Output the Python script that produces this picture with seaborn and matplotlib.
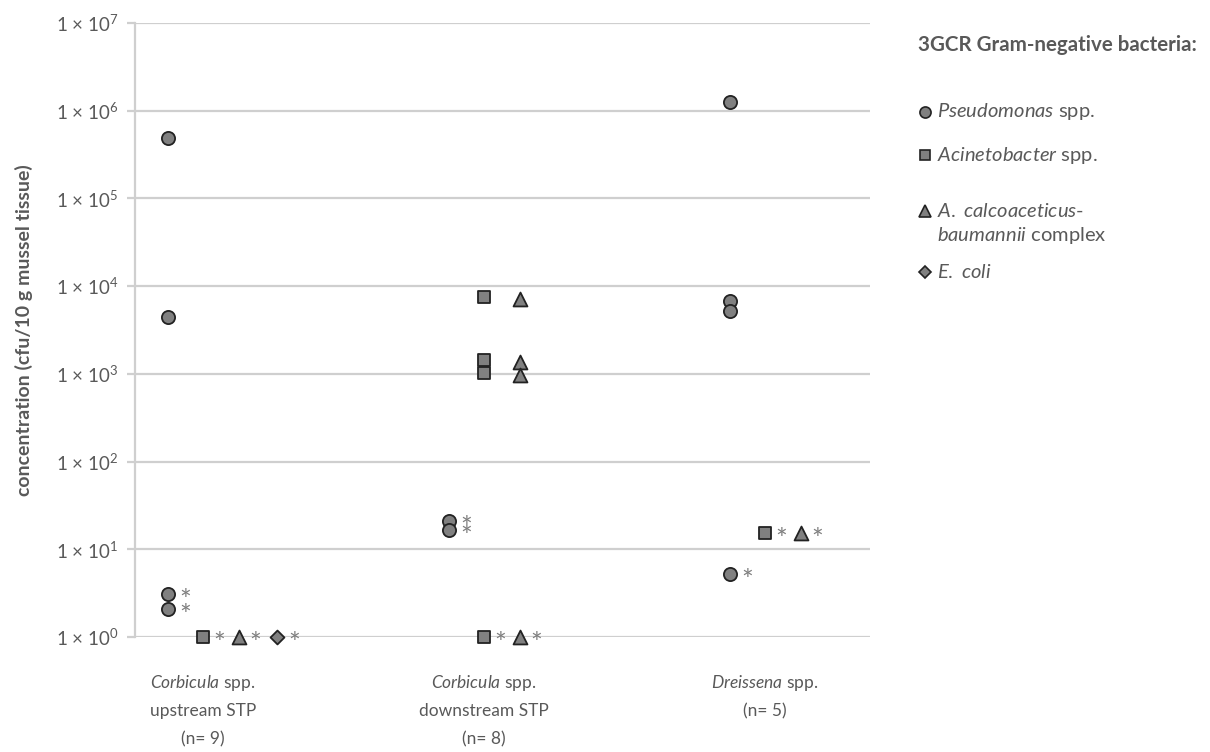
import numpy as np
import pandas as pd
import matplotlib
matplotlib.use("Agg")
import matplotlib.pyplot as plt
from matplotlib.lines import Line2D
from matplotlib.ticker import FixedLocator, FixedFormatter, NullLocator
import seaborn as sns

# ---- data -----------------------------------------------------------------
groups = ["upstream", "downstream", "dreissena"]
group_label_lines = [
    [r"$\mathit{Corbicula}$ spp.", "upstream STP", "(n= 9)"],
    [r"$\mathit{Corbicula}$ spp.", "downstream STP", "(n= 8)"],
    [r"$\mathit{Dreissena}$ spp.", "(n= 5)"],
]

taxa = ["Pseudomonas", "Acinetobacter", "ACB", "Ecoli"]
taxa_label_lines = [
    [r"$\mathit{Pseudomonas}$ spp."],
    [r"$\mathit{Acinetobacter}$ spp."],
    [r"$\mathit{A.\ calcoaceticus}$-", r"$\mathit{baumannii}$ complex"],
    [r"$\mathit{E.\ coli}$"],
]

# concentrations (cfu/10 g); flag = value at detection limit (marked with *)
pseudo_group = ["upstream"] * 4 + ["downstream"] * 2 + ["dreissena"] * 4
pseudo_value = [4.9e5, 4.4e3, 3.1, 2.1, 21, 16.6, 1.26e6, 6.8e3, 5.2e3, 5.2]
pseudo_flag = [False, False, True, True, True, True, False, False, False, True]

acin_group = ["upstream", "downstream", "downstream", "downstream", "downstream", "dreissena"]
acin_value = [1, 7.5e3, 1.45e3, 1.03e3, 1, 15.3]
acin_flag = [True, False, False, False, True, True]

acb_group = ["upstream", "downstream", "downstream", "downstream", "downstream", "dreissena"]
acb_value = [1, 7.1e3, 1.36e3, 0.97e3, 1, 15.3]
acb_flag = [True, False, False, False, True, True]

ecoli_group = ["upstream"]
ecoli_value = [1]
ecoli_flag = [True]

ytick_values = [1e0, 1e1, 1e2, 1e3, 1e4, 1e5, 1e6, 1e7]

# ---- styling ---------------------------------------------------------------
W, H = 1210, 752
TEXT = "#595959"
GRID = "#cfcfcf"
FILL = "#808080"
EDGE = "#222222"
x_offset = {"Pseudomonas": -0.123, "Acinetobacter": 0.0, "ACB": 0.127, "Ecoli": 0.265}
markers = {"Pseudomonas": "o", "Acinetobacter": "s", "ACB": "^", "Ecoli": "D"}
msize = {"Pseudomonas": 90, "Acinetobacter": 85, "ACB": 100, "Ecoli": 50}

sns.set_theme(style="white")
plt.rcParams["font.family"] = ["Lato", "DejaVu Sans"]
plt.rcParams["mathtext.fontset"] = "custom"
plt.rcParams["mathtext.rm"] = "Lato"
plt.rcParams["mathtext.it"] = "Lato:italic"
plt.rcParams["mathtext.bf"] = "Lato:bold"

frames = []
for taxon, g, v, f in [
    ("Pseudomonas", pseudo_group, pseudo_value, pseudo_flag),
    ("Acinetobacter", acin_group, acin_value, acin_flag),
    ("ACB", acb_group, acb_value, acb_flag),
    ("Ecoli", ecoli_group, ecoli_value, ecoli_flag),
]:
    frames.append(pd.DataFrame({"taxon": taxon, "group": g, "value": v, "flag": f}))
df = pd.concat(frames, ignore_index=True)
df["x"] = df["group"].map({g: i + 1 for i, g in enumerate(groups)}) + df["taxon"].map(x_offset)

fig = plt.figure(figsize=(W / 100, H / 100), dpi=100)
ax = fig.add_axes([135 / W, 1 - 637 / H, (870 - 135) / W, (637 - 23) / H])

ax.set_yscale("log")
ax.set_ylim(1, 1e7)
ax.set_xlim(0.758, 3.374)

for taxon in taxa:
    sub = df[df["taxon"] == taxon]
    sns.scatterplot(data=sub, x="x", y="value", marker=markers[taxon], s=msize[taxon],
                    color=FILL, edgecolor=EDGE, linewidth=1.3, ax=ax,
                    clip_on=False, zorder=4, legend=False)

# asterisks next to detection-limit values
for _, row in df[df["flag"]].iterrows():
    ax.annotate("*", (row["x"], row["value"]), xytext=(12, -11.5), textcoords="offset points",
                ha="center", va="baseline", fontsize=20, color="#7f7f7f",
                annotation_clip=False, zorder=5)

# grid / axes
ax.yaxis.set_major_locator(FixedLocator(ytick_values))
ax.yaxis.set_minor_locator(NullLocator())
ax.yaxis.set_major_formatter(FixedFormatter(
    [r"1 × 10$^{%d}$" % int(np.log10(v)) for v in ytick_values]))
ax.grid(axis="y", color=GRID, linewidth=1.6, zorder=0)
ax.grid(axis="x", visible=False)
for side in ["top", "right", "bottom"]:
    ax.spines[side].set_visible(False)
ax.spines["left"].set_color(GRID)
ax.spines["left"].set_linewidth(1.6)
ax.tick_params(axis="y", which="major", direction="out", length=6, width=1.6,
               color=GRID, labelcolor=TEXT, labelsize=13.5, pad=6, left=True)

# category labels, one text per line
ax.set_xticks([1, 2, 3])
ax.set_xticklabels([])
ax.tick_params(axis="x", length=0)
ax.set_xlabel("")
line_offsets_px = [46, 74, 102]
for i, lines in enumerate(group_label_lines):
    for j, line in enumerate(lines):
        ax.annotate(line, xy=(i + 1, 0), xycoords=("data", "axes fraction"),
                    xytext=(0, -line_offsets_px[j] * 0.72), textcoords="offset points",
                    ha="center", va="center", fontsize=12.5, color=TEXT,
                    annotation_clip=False)

ax.set_ylabel("concentration (cfu/10 g mussel tissue)", fontsize=14, fontweight="bold",
              color=TEXT, va="center")
ax.yaxis.set_label_coords(-(135 - 24) / (870 - 135), 0.5)

# legend block
fig.text(918 / W, 1 - 45 / H, "3GCR Gram-negative bacteria:", fontsize=14.8,
         fontweight="bold", color=TEXT, ha="left", va="center")
legend_rows_px = [[112], [155], [211, 235], [272]]
legend_msize = [8, 7.5, 8, 6]
for t, rows, lines, ms in zip(taxa, legend_rows_px, taxa_label_lines, legend_msize):
    y0 = 1 - rows[0] / H
    fig.add_artist(Line2D([925 / W], [y0], transform=fig.transFigure, linestyle="none",
                          marker=markers[t], markersize=ms, markerfacecolor=FILL,
                          markeredgecolor=EDGE, markeredgewidth=1.2))
    for r, line in zip(rows, lines):
        fig.text(937 / W, 1 - r / H, line, fontsize=14.5, color=TEXT,
                 ha="left", va="center")

fig.savefig("out.png", dpi=100)
